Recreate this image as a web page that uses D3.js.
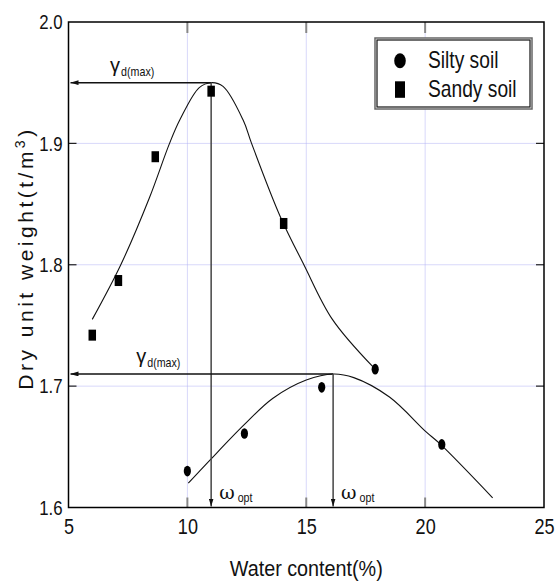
<!DOCTYPE html>
<html>
<head>
<meta charset="utf-8">
<script src="https://cdn.jsdelivr.net/npm/d3@7"></script>
<style>
  body { margin: 0; background: #fff; }
  text { font-family: "Liberation Sans", sans-serif; fill: #111; }
  .grid line { stroke: #b0b0f4; stroke-dasharray: 1,1; }
</style>
</head>
<body>
<script>
const width = 560;
const height = 583;

// measured points
const sandyW = [6.0, 7.1, 8.65, 11.0, 14.05];
const sandyD = [1.742, 1.787, 1.889, 1.943, 1.834];
const siltyW = [10.0, 12.4, 15.65, 17.9, 20.7];
const siltyD = [1.630, 1.661, 1.699, 1.714, 1.652];

// fitted curves
const sandyCurveW = [6.0, 7.2, 8.4, 9.25, 9.7, 10.5, 11.0, 11.5, 12.35, 12.7, 13.9, 14.9, 16.1, 17.8];
const sandyCurveD = [1.755, 1.800, 1.855, 1.900, 1.920, 1.946, 1.950, 1.947, 1.919, 1.900, 1.840, 1.800, 1.755, 1.716];
const siltyCurveW = [10.04, 10.95, 12.38, 13.6, 15.0, 16.13, 17.0, 18.5, 20.03, 20.65, 22.84];
const siltyCurveD = [1.620, 1.639, 1.668, 1.690, 1.705, 1.710, 1.707, 1.691, 1.6625, 1.652, 1.608];

// maxima / optimum water content
const optW = [11.0, 16.13];
const maxD = [1.95, 1.71];
const gammaW = [6.75, 7.85];

const xTicks = [5, 10, 15, 20, 25];
const yTicks = [1.6, 1.7, 1.8, 1.9, 2.0];

const padding = {left: 68.5, right: 16, top: 22, bottom: 75.5};

// squeeze text horizontally (condensed look)
function narrow(sel, f) {
  sel.each(function() {
    const len = this.getComputedTextLength();
    d3.select(this).attr("textLength", len * f).attr("lengthAdjust", "spacingAndGlyphs");
  });
}

const svg = d3.select("body")
  .append("svg")
  .attr("width", width)
  .attr("height", height);

const x = d3.scaleLinear().domain([5, 25]).range([padding.left, width - padding.right]);
const y = d3.scaleLinear().domain([1.6, 2.0]).range([height - padding.bottom, padding.top]);

const x0 = x.range()[0], x1 = x.range()[1];
const y0 = y.range()[0], y1 = y.range()[1];

// grid
const grid = svg.append("g").attr("class", "grid");
grid.selectAll(".gx").data(xTicks.slice(1, -1)).enter().append("line")
  .attr("x1", d => x(d)).attr("x2", d => x(d)).attr("y1", y0).attr("y2", y1);
grid.selectAll(".gy").data(yTicks.slice(1, -1)).enter().append("line")
  .attr("y1", d => y(d)).attr("y2", d => y(d)).attr("x1", x0).attr("x2", x1);

// inside ticks
const ticks = svg.append("g");
xTicks.slice(1, -1).forEach(v => {
  ticks.append("line").attr("x1", x(v)).attr("x2", x(v)).attr("y1", y0).attr("y2", y0 - 10)
    .attr("stroke", "#888").attr("stroke-width", 2);
  ticks.append("line").attr("x1", x(v)).attr("x2", x(v)).attr("y1", y1).attr("y2", y1 + 11)
    .attr("stroke", "#888").attr("stroke-width", 2);
});
yTicks.slice(1, -1).forEach(v => {
  ticks.append("line").attr("x1", x0).attr("x2", x0 + 8).attr("y1", y(v)).attr("y2", y(v))
    .attr("stroke", "#222").attr("stroke-width", 1.2);
  ticks.append("line").attr("x1", x1).attr("x2", x1 - 8).attr("y1", y(v)).attr("y2", y(v))
    .attr("stroke", "#222").attr("stroke-width", 1.2);
});

// axes labels
const xAxis = d3.axisBottom(x).tickValues(xTicks).tickSize(0).tickPadding(11).tickFormat(d3.format("d"));
const yAxis = d3.axisLeft(y).tickValues(yTicks).tickSize(0).tickPadding(6).tickFormat(d3.format(".1f"));

svg.append("g")
  .attr("transform", "translate(0," + y0 + ")")
  .call(xAxis)
  .call(g => g.select(".domain").remove())
  .selectAll("text").style("font-size", "22px").attr("fill", "#111")
  .style("font-family", "'Liberation Sans', sans-serif")
  .call(narrow, 0.82);

svg.append("g")
  .attr("transform", "translate(" + x0 + ",0)")
  .call(yAxis)
  .call(g => g.select(".domain").remove())
  .selectAll("text").style("font-size", "21px").attr("fill", "#111")
  .style("font-family", "'Liberation Sans', sans-serif")
  .call(narrow, 0.8);

// frame
svg.append("rect")
  .attr("x", x0).attr("y", y1).attr("width", x1 - x0).attr("height", y0 - y1)
  .attr("fill", "none").attr("stroke", "#000").attr("stroke-width", 1.5);

// curves
const line = d3.line().x(d => x(d[0])).y(d => y(d[1])).curve(d3.curveCatmullRom);
svg.append("path")
  .datum(d3.zip(sandyCurveW, sandyCurveD))
  .attr("d", line).attr("fill", "none").attr("stroke", "#111").attr("stroke-width", 1.1);
svg.append("path")
  .datum(d3.zip(siltyCurveW, siltyCurveD))
  .attr("d", line).attr("fill", "none").attr("stroke", "#111").attr("stroke-width", 1.1);

// arrows
const defs = svg.append("defs");
defs.append("marker").attr("id", "ah")
  .attr("viewBox", "0 0 10 6").attr("refX", 10).attr("refY", 3)
  .attr("markerWidth", 8).attr("markerHeight", 5).attr("markerUnits", "userSpaceOnUse")
  .attr("orient", "auto")
  .append("path").attr("d", "M0,0L10,3L0,6Z").attr("fill", "#111");

optW.forEach((w, i) => {
  svg.append("line")
    .attr("x1", x(w)).attr("x2", x0 + 2).attr("y1", y(maxD[i])).attr("y2", y(maxD[i]))
    .attr("stroke", "#111").attr("stroke-width", 1.4).attr("marker-end", "url(#ah)");
  svg.append("line")
    .attr("x1", x(w)).attr("x2", x(w)).attr("y1", y(maxD[i])).attr("y2", y0 - 1)
    .attr("stroke", "#444").attr("stroke-width", 1.5).attr("marker-end", "url(#ah)");

  const gt = svg.append("text")
    .attr("x", x(gammaW[i])).attr("y", y(maxD[i]) - 11)
    .style("font-size", "20px");
  gt.append("tspan").text("γ");
  gt.append("tspan").attr("dy", 4).attr("dx", 1).style("font-size", "13px").text("d(max)")
    .call(narrow, 0.82);

  const ot = svg.append("text")
    .attr("x", x(w) + 8).attr("y", y0 - 9)
    .style("font-size", "19px").style("font-family", "'DejaVu Serif', serif");
  ot.append("tspan").text("ω");
  ot.append("tspan").attr("dy", 3).attr("dx", 3).style("font-size", "13px")
    .style("font-family", "'Liberation Sans', sans-serif").text("opt")
    .call(narrow, 0.82);
});

// points
svg.selectAll(".sandy").data(d3.zip(sandyW, sandyD)).enter().append("rect")
  .attr("x", d => x(d[0]) - 3.75).attr("y", d => y(d[1]) - 5.5)
  .attr("width", 7.5).attr("height", 11).attr("fill", "#000");
svg.selectAll(".silty").data(d3.zip(siltyW, siltyD)).enter().append("ellipse")
  .attr("cx", d => x(d[0])).attr("cy", d => y(d[1]))
  .attr("rx", 3.6).attr("ry", 5.3).attr("fill", "#000");

// legend
const lg = svg.append("g").attr("transform", "translate(375,38)");
lg.append("rect").attr("width", 157).attr("height", 71)
  .attr("fill", "#fff").attr("stroke", "#666").attr("stroke-width", 1.5);
lg.append("rect").attr("x", 2).attr("y", 2).attr("width", 153).attr("height", 67)
  .attr("fill", "none").attr("stroke", "#111").attr("stroke-width", 1.2);
lg.append("ellipse").attr("cx", 25).attr("cy", 22.7).attr("rx", 5.8).attr("ry", 7.5).attr("fill", "#000");
lg.append("rect").attr("x", 20).attr("y", 43.3).attr("width", 10).attr("height", 16.5).attr("fill", "#000");
lg.append("text").attr("x", 53).attr("y", 30).style("font-size", "24px").text("Silty soil")
  .call(narrow, 0.8);
lg.append("text").attr("x", 53).attr("y", 59).style("font-size", "24px").text("Sandy soil")
  .call(narrow, 0.8);

// axis titles
svg.append("text")
  .attr("x", (x0 + x1) / 2).attr("y", 576)
  .style("text-anchor", "middle").style("font-size", "22px")
  .attr("textLength", 153).attr("lengthAdjust", "spacingAndGlyphs")
  .text("Water content(%)");

const yt = svg.append("text")
  .attr("transform", "translate(33,258) rotate(-90)")
  .style("text-anchor", "middle").style("font-size", "21px")
  .style("letter-spacing", "3.5px");
yt.append("tspan").text("Dry unit weight(t/m");
yt.append("tspan").attr("dy", -8).style("font-size", "14px").text("3");
yt.append("tspan").attr("dy", 8).text(")");
</script>
</body>
</html>
